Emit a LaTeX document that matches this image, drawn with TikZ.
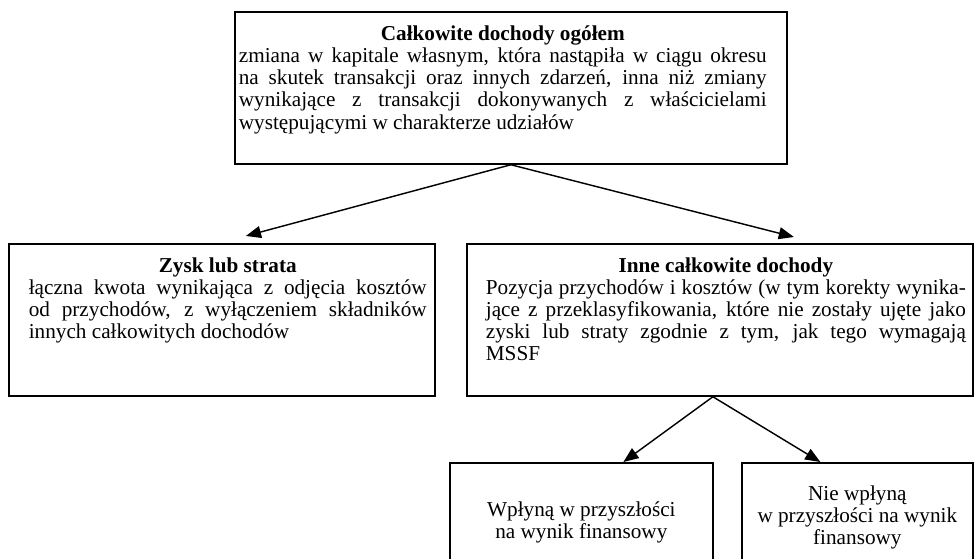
\documentclass[tikz,border=0pt]{standalone}
\usepackage{fontspec}
\setmainfont{Liberation Serif}
\usetikzlibrary{arrows.meta,calc}
\def\cell#1#2#3#4#5{\makebox[#1][l]{\hspace*{#3}\parbox[t][#2][t]{#4}{\vspace*{9pt}#5}}}
\def\head#1{{\centering\bfseries #1\par}}
\begin{document}
\begin{tikzpicture}[x=0.627pt, y=-0.627pt, font=\fontsize{13.3}{13.8}\selectfont, >={Triangle[length=9.5pt,width=7.5pt]}]
	\tikzset{box/.style={draw, line width=1.1pt, anchor=north west, inner sep=0pt},
		small/.style={box, align=center, minimum height=69pt},
		conn/.style={->, line width=0.9pt}}
	\useasboundingbox (0,0) rectangle (974,559);
	\clip (0,0) rectangle (974,559);
	\node[box] (ogolem) at (234,11) {\cell{346.1pt}{95.3pt}{2.5pt}{331pt}{\head{Całkowite dochody ogółem}
		zmiana w kapitale własnym, która nastąpiła w ciągu okresu\linebreak
		na skutek transakcji oraz innych zdarzeń, inna niż zmiany\linebreak
		wynikające z transakcji dokonywanych z właścicielami\linebreak
		występującymi w charakterze udziałów}};
	\node[box] (zysk) at (8,243) {\cell{267.1pt}{95.3pt}{12.5pt}{249.5pt}{\head{Zysk lub strata}
		łączna kwota wynikająca z odjęcia kosztów\linebreak
		od przychodów, z wyłączeniem składników\linebreak
		innych całkowitych dochodów}};
	\node[box] (inne) at (466,243) {\cell{317.3pt}{95.3pt}{11.9pt}{301pt}{\head{Inne całkowite dochody}
		Pozycja przychodów i kosztów (w tym korekty wynika-\linebreak
		jące z przeklasyfikowania, które nie zostały ujęte jako\linebreak
		zyski lub straty zgodnie z tym, jak tego wymagają\linebreak
		MSSF}};
	\node[small, minimum width=164.9pt, minimum height=75pt] (wplyna) at (449,462) {Wpłyną w przyszłości\\na wynik finansowy};
	\node[small, minimum width=144.8pt] (niewplyna) at (741,462) {Nie wpłyną\\w przyszłości na wynik\\finansowy};
	\draw[conn] (ogolem.south) -- ($(zysk.north)+(24,-7)$);
	\draw[conn] (ogolem.south) -- ($(inne.north)+(74,-6)$);
	\draw[conn] ($(inne.south)+(-7,0)$) -- ($(wplyna.north)+(42,0)$);
	\draw[conn] ($(inne.south)+(-7,0)$) -- ($(niewplyna.north)+(-37,0)$);
\end{tikzpicture}
\end{document}
